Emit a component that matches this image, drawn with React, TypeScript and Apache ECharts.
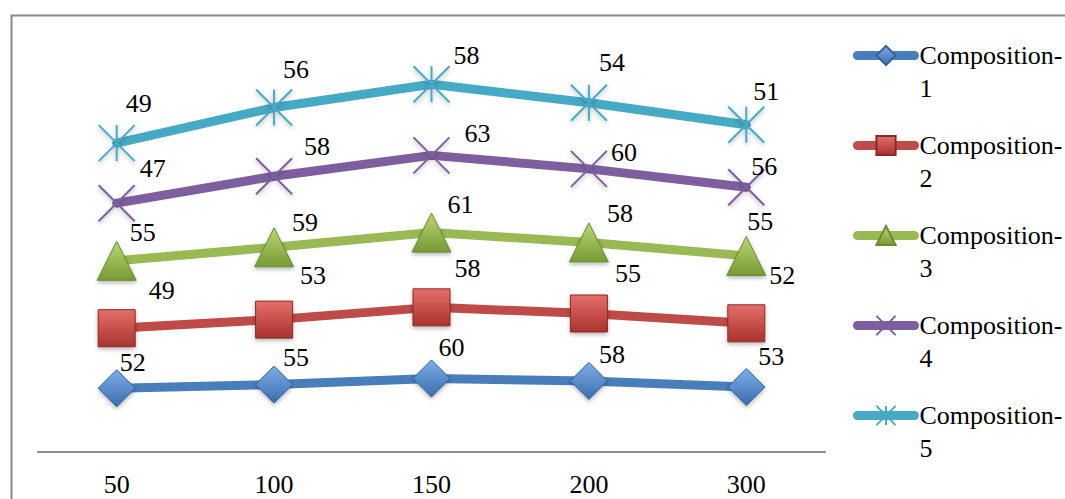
import React, { useEffect, useRef } from "react";
import * as echarts from "echarts";

// Categories along the x axis
const categories = ["50", "100", "150", "200", "300"];

// Series names and their values (stacked one on another)
const seriesNames = [
  "Composition-1",
  "Composition-2",
  "Composition-3",
  "Composition-4",
  "Composition-5",
];
const composition1 = [52, 55, 60, 58, 53];
const composition2 = [49, 53, 58, 55, 52];
const composition3 = [55, 59, 61, 58, 55];
const composition4 = [47, 58, 63, 60, 56];
const composition5 = [49, 56, 58, 54, 51];
const seriesValues = [composition1, composition2, composition3, composition4, composition5];

// Look of each series
const lineColors = ["#4a7ebb", "#be4b48", "#98b954", "#7d5fa0", "#46aac5"];
const symbolFills = [
  ["#7eaee8", "#3a6cae"],
  ["#e46f6a", "#a8332f"],
  ["#b9d875", "#779a35"],
  ["#7d5fa0", "#7d5fa0"],
  ["#46aac5", "#46aac5"],
];
const symbolBorders = ["#35609a", "#8a2a27", "#6a8a2e", "#7d5fa0", "#46aac5"];
const symbols = [
  "diamond",
  "rect",
  "triangle",
  "path://M0 0 L10 10 M10 0 L0 10",
  "path://M0 0 L10 10 M10 0 L0 10 M5 0 L5 10",
];
const symbolSizes = [37, 37, 39, 36, 36];
const symbolBorderWidths = [1, 1, 1, 2, 2];

// Value label nudges relative to each marker centre
const labelNudges = [
  [[16, -26], [22, -27], [20, -31], [23, -26], [25, -31]],
  [[45, -38], [39, -44], [36, -39], [39, -40], [36, -48]],
  [[26, -28], [31, -25], [29, -28], [31, -29], [14, -34]],
  [[36, -35], [43, -30], [46, -22], [35, -16], [18, -21]],
  [[22, -40], [22, -38], [35, -29], [23, -40], [20, -33]],
];

const FONT = "Times New Roman";

export default function App() {
  const ref = useRef<HTMLDivElement>(null);

  useEffect(() => {
    if (!ref.current) return;
    const chart = echarts.init(ref.current, undefined, { renderer: "svg" });

    const series = seriesNames.map((name, i) => {
      const isStroke = i >= 3;
      return {
        name,
        type: "line",
        stack: "total",
        symbol: symbols[i],
        symbolSize: symbolSizes[i],
        showAllSymbol: true,
        lineStyle: { color: lineColors[i], width: 9, cap: "round", join: "round" },
        itemStyle: {
          color: isStroke
            ? "rgba(0,0,0,0)"
            : new echarts.graphic.LinearGradient(0, 0, 0, 1, [
                { offset: 0, color: symbolFills[i][0] },
                { offset: 1, color: symbolFills[i][1] },
              ]),
          borderColor: symbolBorders[i],
          borderWidth: symbolBorderWidths[i],
          shadowBlur: 4,
          shadowColor: "rgba(0,0,0,0.3)",
          shadowOffsetY: 2,
        },
        label: {
          show: true,
          position: "inside",
          color: "#000",
          fontFamily: FONT,
          fontSize: 26,
        },
        emphasis: { disabled: true },
        z: 2 + i,
        data: seriesValues[i].map((v, j) => ({
          value: v,
          label: { offset: labelNudges[i][j] },
        })),
      };
    });

    chart.setOption({
      animation: false,
      backgroundColor: "#fff",
      color: lineColors,
      textStyle: { fontFamily: FONT },
      grid: { left: 38, right: 240, top: 23, bottom: 47 },
      xAxis: {
        type: "category",
        data: categories,
        boundaryGap: true,
        axisLine: { show: true, lineStyle: { color: "#8c8c8c", width: 2 } },
        axisTick: { show: false },
        axisLabel: { color: "#000", fontFamily: FONT, fontSize: 26, margin: 19 },
        splitLine: { show: false },
      },
      yAxis: {
        type: "value",
        min: 0,
        max: 350,
        show: false,
        splitLine: { show: false },
      },
      legend: {
        orient: "vertical",
        left: 853,
        top: 6,
        padding: 0,
        itemGap: -9,
        itemWidth: 57,
        itemHeight: 24,
        data: seriesNames,
        selectedMode: false,
        lineStyle: { width: 9, cap: "round" },
        // leading blank line keeps the first text line level with the icon
        formatter: (name: string) => "\n" + name.replace("-", "-\n"),
        textStyle: {
          color: "#000",
          fontFamily: FONT,
          fontSize: 26,
          lineHeight: 33,
        },
      },
      graphic: [
        {
          type: "rect",
          left: 9,
          top: 13,
          shape: { x: 0, y: 0, width: 1200, height: 600 },
          style: { fill: "none", stroke: "#8a8a8a", lineWidth: 2 },
          silent: true,
          z: -1,
        },
      ],
      series,
    });

    return () => {
      chart.dispose();
    };
  }, []);

  return (
    <div
      ref={ref}
      style={{ position: "absolute", left: 0, top: 0, width: 1065, height: 499 }}
    />
  );
}
